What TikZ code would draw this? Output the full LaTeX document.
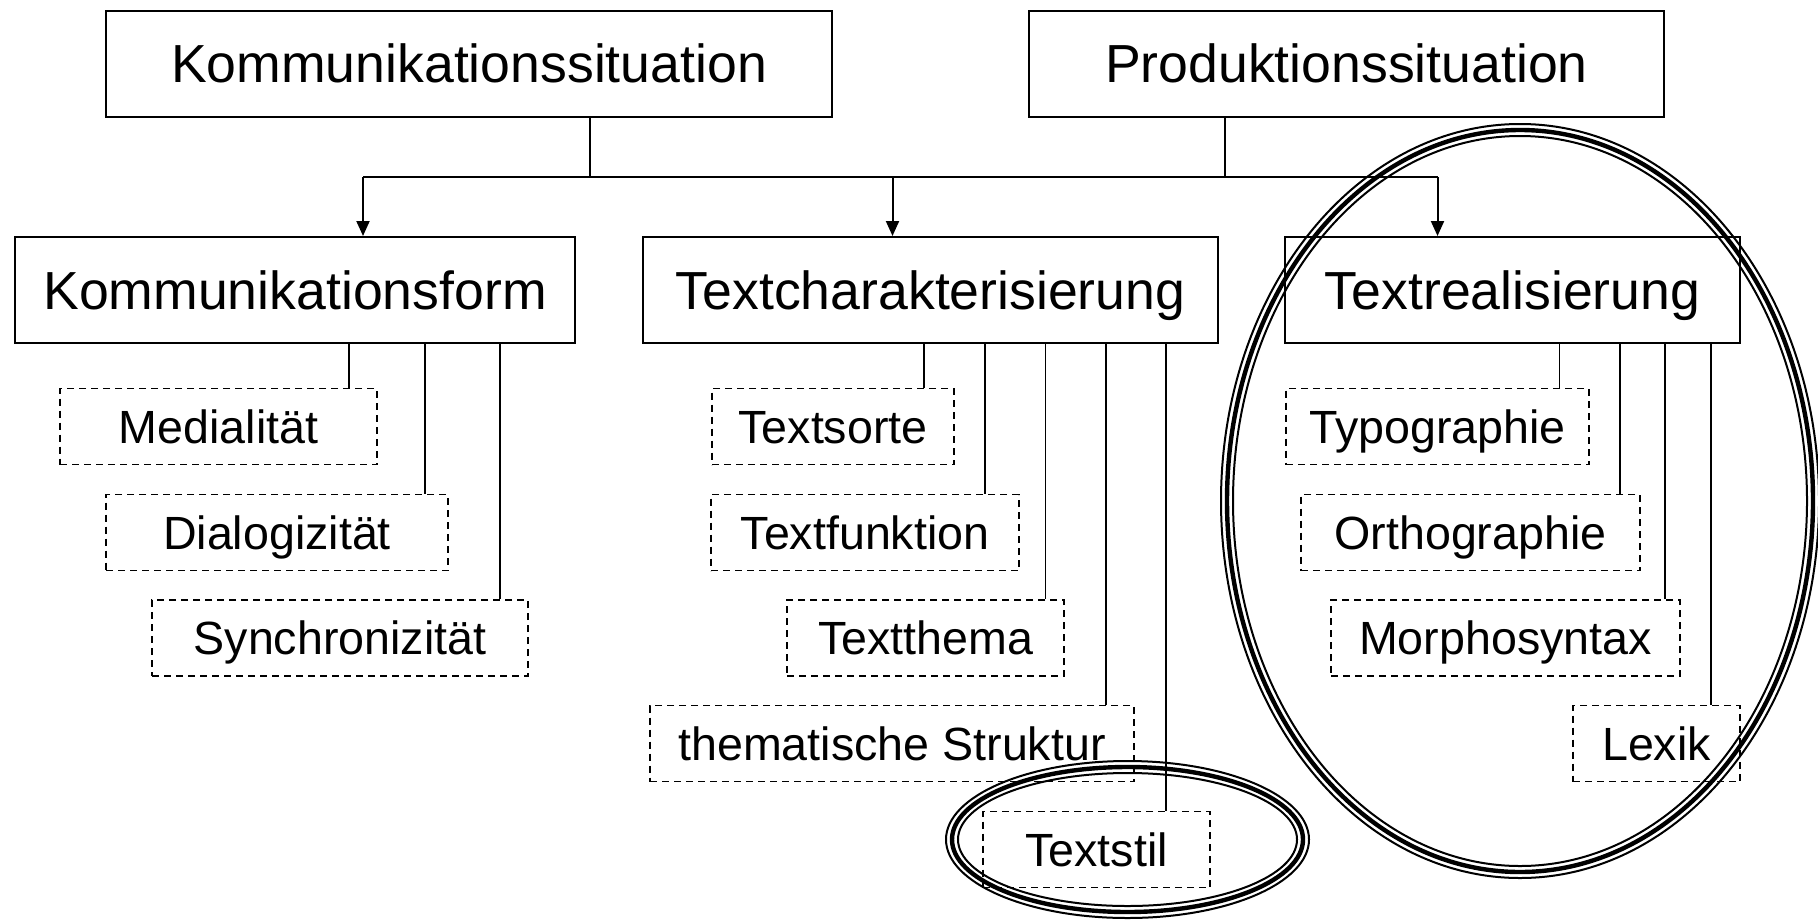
\documentclass[tikz,border=0pt]{standalone}
\usepackage{fontspec}
\setmainfont{Liberation Sans}
\usetikzlibrary{arrows.meta}
\begin{document}
\begin{tikzpicture}[x=0.5pt,y=-0.5pt,
  bigbox/.style={draw, line width=1pt, inner sep=0pt, font=\fontsize{26.8pt}{30pt}\selectfont, text height=19.2pt, text depth=0pt, minimum height=53pt},
  subbox/.style={draw, dash pattern=on 3.5pt off 2.5pt, line width=0.8pt, inner sep=0pt, font=\fontsize{23.3pt}{26pt}\selectfont, text height=16.7pt, text depth=0pt, minimum height=38pt},
  link/.style={line width=0.8pt},
  trunk/.style={line width=1pt},
  arr/.style={line width=1pt, -{Triangle[length=7.5pt,width=6.5pt]}},
  thinring/.style={line width=1pt},
  thickring/.style={line width=2.2pt}]
\useasboundingbox (0,0) rectangle (1818,921);

% top boxes
\node[bigbox, minimum width=363pt] (ks) at (469,63.5) {Kommunikationssituation};
\node[bigbox, minimum width=317.5pt] (ps) at (1346.5,63.5) {Produktionssituation};

% second row
\node[bigbox, minimum width=280pt] (kf) at (295,290) {Kommunikationsform};
\node[bigbox, minimum width=287.5pt] (tc) at (930.5,290) {Textcharakterisierung};
\node[bigbox, minimum width=227.5pt] (tr) at (1512.5,290) {Textrealisierung};

% children
\node[subbox, minimum width=158.5pt] (med) at (218.5,426.5) {Medialität};
\node[subbox, minimum width=171pt] (dia) at (277,532.5) {Dialogizität};
\node[subbox, minimum width=188pt] (syn) at (340,638) {Synchronizität};

\node[subbox, minimum width=121pt] (tso) at (833,426.5) {Textsorte};
\node[subbox, minimum width=154pt] (tfu) at (865,532.5) {Textfunktion};
\node[subbox, minimum width=138.5pt] (tth) at (925.5,638) {Textthema};
\node[subbox, minimum width=242pt] (tst) at (892,743.5) {thematische Struktur};
\node[subbox, minimum width=113.5pt] (tsl) at (1096.5,849.5) {Textstil};

\node[subbox, minimum width=151.5pt] (typ) at (1437.5,426.5) {Typographie};
\node[subbox, minimum width=169.5pt] (ort) at (1470.5,532.5) {Orthographie};
\node[subbox, minimum width=174.5pt] (mor) at (1505.5,638) {Morphosyntax};
\node[subbox, minimum width=83.5pt] (lex) at (1656.5,743.5) {Lexik};

% trunk connectors
\path (ks.south) ++(121,0) coordinate (s1);
\path (ps.south) ++(-121.5,0) coordinate (s2);
\path (kf.north) ++(68,0) coordinate (k1);
\path (tc.north) ++(-38,0) coordinate (k2);
\path (tr.north) ++(-75,0) coordinate (k3);
\coordinate (hy) at (0,177);
\coordinate (j1) at (s1 |- hy);
\coordinate (j2) at (s2 |- hy);
\coordinate (h1) at (k1 |- hy);
\coordinate (h2) at (k2 |- hy);
\coordinate (h3) at (k3 |- hy);
\draw[trunk] (s1) -- (j1);
\draw[trunk] (s2) -- (j2);
\draw[trunk] (h1) -- (h3);
\draw[arr] (h1) -- (k1);
\draw[arr] (h2) -- (k2);
\draw[arr] (h3) -- (k3);

% child connectors
\path (med.north east) ++(-29,0) coordinate (c1);
\path (dia.north east) ++(-24,0) coordinate (c2);
\path (syn.north east) ++(-29,0) coordinate (c3);
\path (tso.north east) ++(-31,0) coordinate (c4);
\path (tfu.north east) ++(-35,0) coordinate (c5);
\path (tth.north east) ++(-19.5,0) coordinate (c6);
\path (tst.north east) ++(-29,0) coordinate (c7);
\path (tsl.north east) ++(-45,0) coordinate (c8);
\path (typ.north east) ++(-30.5,0) coordinate (c9);
\path (ort.north east) ++(-21,0) coordinate (c10);
\path (mor.north east) ++(-16,0) coordinate (c11);
\path (lex.north east) ++(-30,0) coordinate (c12);
\foreach \c in {c1,c2,c3} \draw[link] (\c) -- (\c |- kf.south);
\foreach \c in {c4,c5,c6,c7,c8} \draw[link] (\c) -- (\c |- tc.south);
\foreach \c in {c9,c10,c11,c12} \draw[link] (\c) -- (\c |- tr.south);

% rings
\draw[thinring] (1520,501) ellipse [x radius=149.5pt, y radius=188.5pt];
\draw[thickring] (1520,501) ellipse [x radius=146.5pt, y radius=185.5pt];
\draw[thinring] (1520,501) ellipse [x radius=143.5pt, y radius=182.5pt];

\draw[thinring] (1127.5,839.5) ellipse [x radius=90.75pt, y radius=39.25pt];
\draw[thickring] (1127.5,839.5) ellipse [x radius=87.75pt, y radius=36.25pt];
\draw[thinring] (1127.5,839.5) ellipse [x radius=84.75pt, y radius=33.25pt];
\end{tikzpicture}
\end{document}
